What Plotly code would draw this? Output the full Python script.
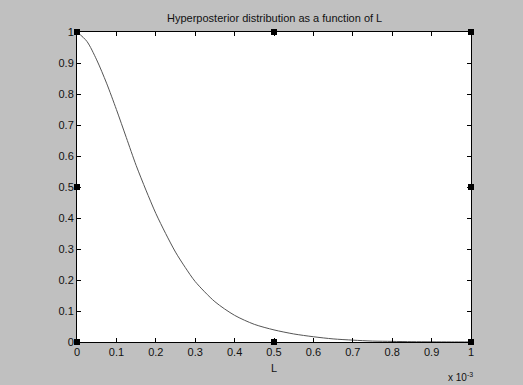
import plotly.graph_objects as go

# L in units of 1e-3
L_vals = [0, 0.025, 0.05, 0.075, 0.1, 0.125, 0.15, 0.175, 0.2, 0.225, 0.25, 0.275, 0.3,
          0.35, 0.4, 0.45, 0.5, 0.55, 0.6, 0.65, 0.7, 0.75, 0.8, 0.85, 0.9, 0.95, 1.0]
posterior = [1.0, 0.97, 0.91, 0.835, 0.75, 0.66, 0.57, 0.49, 0.415, 0.35, 0.29, 0.24, 0.195,
             0.13, 0.086, 0.057, 0.039, 0.026, 0.017, 0.010, 0.006, 0.003, 0.002, 0.001,
             0.0006, 0.0003, 0.0002]

marker_x = [0, 0, 0, 0.5, 0.5, 1, 1, 1]
marker_y = [0, 0.5, 1, 0, 1, 0, 0.5, 1]

x_ticks = [0, 0.1, 0.2, 0.3, 0.4, 0.5, 0.6, 0.7, 0.8, 0.9, 1]
y_ticks = [0, 0.1, 0.2, 0.3, 0.4, 0.5, 0.6, 0.7, 0.8, 0.9, 1]

font = dict(family="Liberation Sans, Arial, sans-serif", size=11, color="#111111")

fig = go.Figure()
fig.add_trace(go.Scatter(x=L_vals, y=posterior, mode="lines",
                         line=dict(color="#555555", width=1, shape="spline", smoothing=0.8),
                         showlegend=False, cliponaxis=False, hoverinfo="skip"))
fig.add_trace(go.Scatter(x=marker_x, y=marker_y, mode="markers",
                         marker=dict(symbol="square", size=6, color="black"),
                         showlegend=False, cliponaxis=False, hoverinfo="skip"))

axis_common = dict(showgrid=False, zeroline=False, showline=True, linecolor="black",
                   linewidth=1, mirror="allticks", ticks="inside", ticklen=4,
                   tickcolor="black", tickfont=font)
fig.update_xaxes(range=[0, 1], tickvals=x_ticks,
                 ticktext=[f"{v:g}" for v in x_ticks], **axis_common)
fig.update_yaxes(range=[0, 1], tickvals=y_ticks,
                 ticktext=[f"{v:g}" for v in y_ticks], **axis_common)

fig.update_layout(
    width=523, height=385,
    margin=dict(l=77, r=52, t=32, b=43),
    paper_bgcolor="#c0c0c0", plot_bgcolor="white",
    font=font,
    annotations=[
        dict(text="Hyperposterior distribution as a function of L", x=0.5, y=1,
             xref="paper", yref="paper", xanchor="center", yanchor="bottom",
             yshift=6, showarrow=False, font=font),
        dict(text="L", x=0.5, y=0, xref="paper", yref="paper", xanchor="center",
             yanchor="top", yshift=-18, showarrow=False, font=font),
        dict(text="x 10<sup>-3</sup>", x=1, y=0, xref="paper", yref="paper",
             xanchor="right", yanchor="top", yshift=-27, xshift=4, showarrow=False,
             font=dict(family=font["family"], size=10, color="#111111")),
    ],
)

fig.write_html("out.html", config={"displayModeBar": False},
               post_script="document.body.style.margin='0';document.body.style.padding='0';"
                           "document.body.style.overflow='hidden';")
